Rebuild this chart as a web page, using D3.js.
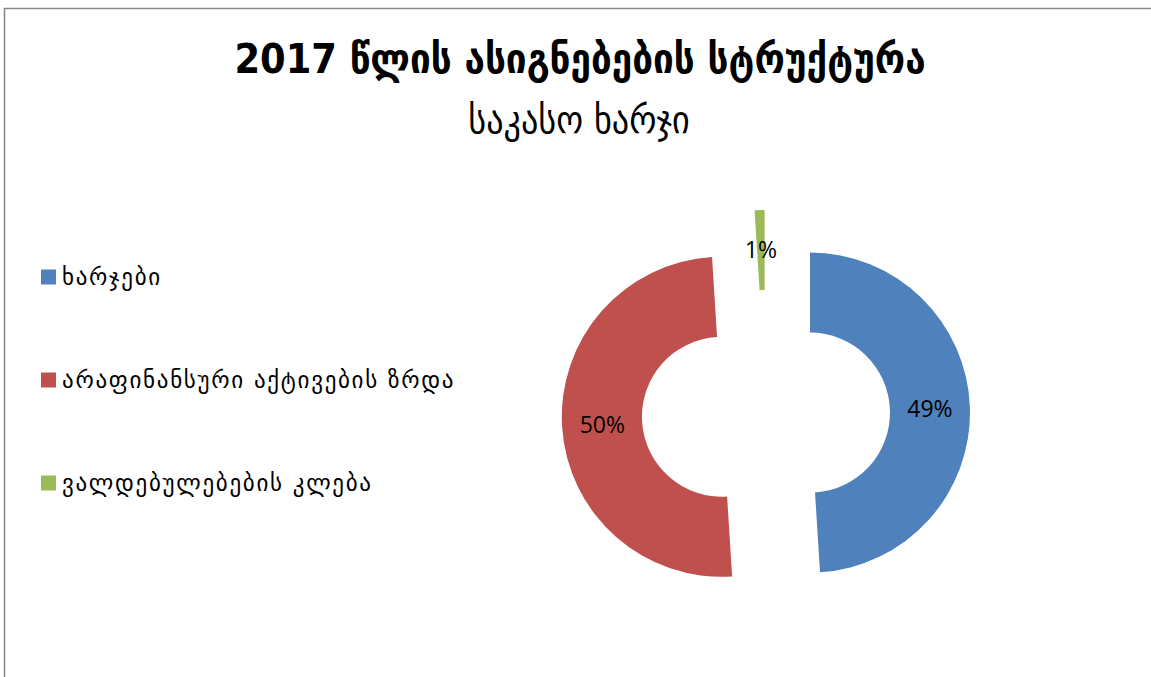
<!DOCTYPE html>
<html>
<head>
<meta charset="utf-8">
<script src="https://cdn.jsdelivr.net/npm/d3@7.9.0/dist/d3.min.js"></script>
<style>
  body { margin: 0; background: #fff; }
  svg { display: block; }
</style>
</head>
<body>
<svg id="chart" width="1151" height="677"></svg>
<script>
// chart data
const categories = ["ხარჯები", "არაფინანსური აქტივების ზრდა", "ვალდებულებების კლება"];
const shares = [49, 50, 1]; // percent
const colors = ["#4f81bd", "#c0504d", "#9bbb59"];
const title = "2017 წლის ასიგნებების სტრუქტურა";
const subtitle = "საკასო ხარჯი";

const svg = d3.select("#chart");
const W = 1151, H = 677;

// chart area border
svg.append("rect")
    .attr("x", 4.5).attr("y", 8.5)
    .attr("width", W + 10).attr("height", H + 10)
    .attr("fill", "#fff")
    .attr("stroke", "#868686")
    .attr("stroke-width", 1.5);

// titles
svg.append("text")
    .attr("x", 580).attr("y", 73)
    .attr("text-anchor", "middle")
    .style("font-family", "'DejaVu Sans Condensed', 'DejaVu Sans', sans-serif")
    .style("font-weight", "bold")
    .style("font-size", "41px")
    .text(title);

svg.append("text")
    .attr("x", 579).attr("y", 133)
    .attr("text-anchor", "middle")
    .style("font-family", "'DejaVu Sans Condensed', 'DejaVu Sans', sans-serif")
    .style("font-size", "38px")
    .text(subtitle);

// doughnut
const cx = 766, cy = 414;
const outerR = 160, innerR = 80, explode = 44;

const pie = d3.pie().sort(null).value(d => d);
const arc = d3.arc().innerRadius(innerR).outerRadius(outerR);
const arcs = pie(shares);

const g = svg.append("g").attr("transform", `translate(${cx},${cy})`);

const slices = g.selectAll("g.slice")
    .data(arcs)
    .join("g")
    .attr("class", "slice")
    .attr("transform", d => {
        const a = (d.startAngle + d.endAngle) / 2;
        return `translate(${explode * Math.sin(a)},${-explode * Math.cos(a)})`;
    });

slices.append("path")
    .attr("d", arc)
    .attr("fill", (d, i) => colors[i]);

slices.append("text")
    .attr("transform", d => `translate(${arc.centroid(d)})`)
    .attr("text-anchor", "middle")
    .attr("dy", "0.36em")
    .style("font-family", "'Open Sans', sans-serif")
    .style("font-size", "23px")
    .attr("fill", "#000")
    .text(d => d.data + "%");

// legend
const legendY = d3.scalePoint().domain(categories).range([277, 483]);

const legend = svg.append("g")
    .selectAll("g")
    .data(categories)
    .join("g")
    .attr("transform", d => `translate(41,${legendY(d)})`);

legend.append("rect")
    .attr("x", 0).attr("y", -7.5)
    .attr("width", 15).attr("height", 15)
    .attr("fill", (d, i) => colors[i]);

legend.append("text")
    .attr("x", 21).attr("y", 0)
    .attr("dy", "0.35em")
    .style("font-family", "'DejaVu Sans', sans-serif")
    .style("font-size", "23px")
    .style("letter-spacing", "1.7px")
    .attr("fill", "#000")
    .text(d => d);
</script>
</body>
</html>
